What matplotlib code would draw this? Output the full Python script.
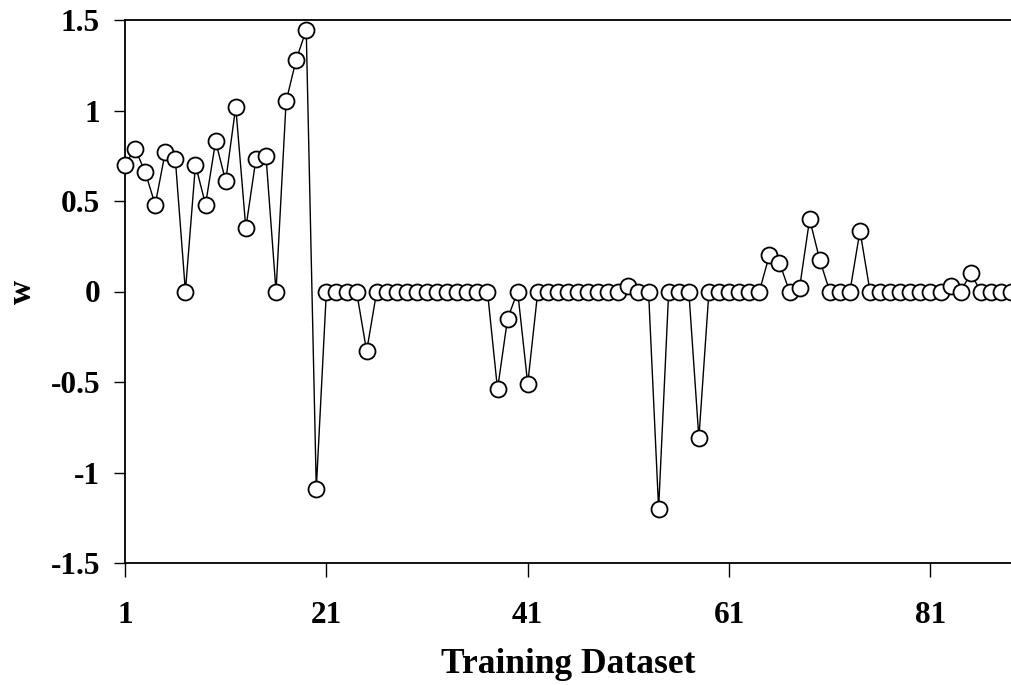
import matplotlib
matplotlib.use("Agg")
import matplotlib.pyplot as plt
import numpy as np

# Data: weight w per training dataset index
dataset_index = list(range(1, 90))
w_values = [
    0.70, 0.79, 0.66, 0.48, 0.77, 0.73, 0.00, 0.70, 0.48, 0.83,   # 1-10
    0.61, 1.02, 0.35, 0.73, 0.75, 0.00, 1.05, 1.28, 1.445, -1.09,  # 11-20
    0.00, 0.00, 0.00, 0.00, -0.33, 0.00, 0.00, 0.00, 0.00, 0.00,   # 21-30
    0.00, 0.00, 0.00, 0.00, 0.00, 0.00, 0.00, -0.54, -0.15, 0.00,  # 31-40
    -0.51, 0.00, 0.00, 0.00, 0.00, 0.00, 0.00, 0.00, 0.00, 0.00,   # 41-50
    0.03, 0.00, 0.00, -1.20, 0.00, 0.00, 0.00, -0.81, 0.00, 0.00,  # 51-60
    0.00, 0.00, 0.00, 0.00, 0.20, 0.16, 0.00, 0.02, 0.40, 0.175,   # 61-70
    0.00, 0.00, 0.00, 0.335, 0.00, 0.00, 0.00, 0.00, 0.00, 0.00,   # 71-80
    0.00, 0.00, 0.03, 0.00, 0.10, 0.00, 0.00, 0.00, 0.00,          # 81-89
]
x_ticks = [1, 21, 41, 61, 81]
y_ticks = [-1.5, -1, -0.5, 0, 0.5, 1, 1.5]
y_tick_labels = ["-1.5", "-1", "-0.5", "0", "0.5", "1", "1.5"]

plt.rcParams['font.family'] = ['Liberation Serif', 'DejaVu Serif']
plt.rcParams['font.weight'] = 'bold'

fig = plt.figure(figsize=(10.11, 6.85), dpi=100)
ax = fig.add_axes([125/1011, 1 - 563/685, 1 - 125/1011, (563 - 20)/685])

ax.plot(dataset_index, w_values, color='black', linewidth=1.0,
        marker='o', markersize=11.5, markerfacecolor='white',
        markeredgecolor='black', markeredgewidth=1.3, clip_on=False, zorder=3)

ax.set_xlim(1, 89)
ax.set_ylim(-1.5, 1.5)
ax.set_xticks(x_ticks)
ax.set_xticklabels([str(t) for t in x_ticks])
ax.set_yticks(y_ticks)
ax.set_yticklabels(y_tick_labels)

for side in ['left', 'top', 'bottom']:
    ax.spines[side].set_linewidth(1.3)
    ax.spines[side].set_color('black')
ax.spines['right'].set_visible(False)

ax.tick_params(axis='x', direction='out', length=10, width=1.0, pad=17.5,
               labelsize=22.5)
ax.tick_params(axis='y', direction='out', length=8, width=1.0, pad=10,
               labelsize=22.5)
for lbl in ax.get_xticklabels() + ax.get_yticklabels():
    lbl.set_fontweight('bold')

ax.set_xlabel('Training Dataset', fontsize=25.5, fontweight='bold', labelpad=13)
ax.set_ylabel('w', fontsize=24, fontweight='bold', labelpad=9)

fig.savefig('out.png', dpi=100)
